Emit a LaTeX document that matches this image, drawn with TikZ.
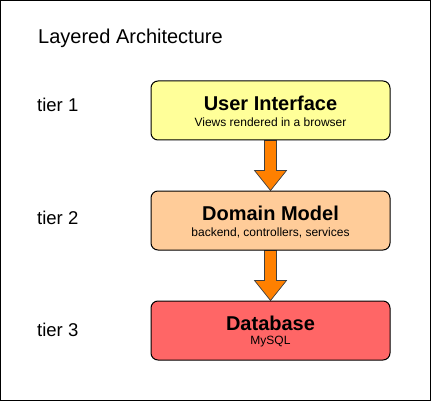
\documentclass[tikz,border=0pt]{standalone}
\usepackage{fontspec}
\setmainfont{Liberation Sans}
\usetikzlibrary{backgrounds}
\definecolor{uifill}{HTML}{FFFF99}
\definecolor{dmfill}{HTML}{FFCC99}
\definecolor{dbfill}{HTML}{FF6666}
\definecolor{arrfill}{HTML}{FF8000}
\begin{document}
\begin{tikzpicture}[x=1pt,y=-1pt,
  layer/.style={draw=black, line width=1pt, rounded corners=7pt, minimum width=239pt, minimum height=59pt, inner sep=0pt},
  headtext/.style={inner sep=0pt, font=\fontsize{20}{22}\selectfont\bfseries},
  subtext/.style={inner sep=0pt, font=\fontsize{12}{14}\selectfont},
  tierlabel/.style={anchor=west, font=\fontsize{18.5}{20}\selectfont, inner sep=0pt},
  bigarrow/.style={draw=black!75, line width=0.7pt, fill=arrfill}]
\useasboundingbox (0,0) rectangle (431,401);
\node[layer, fill=uifill] (ui) at (270.5,110.5) {};
\node[layer, fill=dmfill] (dm) at (270.5,220.5) {};
\node[layer, fill=dbfill] (db) at (270.5,330.5) {};
\begin{scope}[on background layer]
\draw[line width=1pt, fill=white] (0.5,0.5) rectangle (430.5,400.5);
\foreach \a/\b in {ui/dm, dm/db}{
  \draw[bigarrow] ([xshift=-6pt]\a.south) -- ([xshift=-6pt,yshift=20pt]\b.north) -- ([xshift=-16pt,yshift=20pt]\b.north) -- (\b.north) -- ([xshift=16pt,yshift=20pt]\b.north) -- ([xshift=6pt,yshift=20pt]\b.north) -- ([xshift=6pt]\a.south) -- cycle;
}
\end{scope}
\node[anchor=west, inner sep=0pt, font=\fontsize{20}{22}\selectfont] (title) at (38,38) {Layered Architecture};
\node[tierlabel] (t1) at (37,104.5) {tier 1};
\node[tierlabel] (t2) at (37,217.5) {tier 2};
\node[tierlabel] (t3) at (37,329.5) {tier 3};
\node[headtext] (uiT) at ([yshift=7.5pt]ui.center) {User Interface};
\node[subtext] (uiS) at ([yshift=-11.5pt]ui.center) {Views rendered in a browser};
\node[headtext] (dmT) at ([yshift=7.5pt]dm.center) {Domain Model};
\node[subtext] (dmS) at ([yshift=-12pt]dm.center) {backend, controllers, services};
\node[headtext] (dbT) at ([yshift=7.5pt]db.center) {Database};
\node[subtext] (dbS) at ([yshift=-11.5pt]db.center) {MySQL};
\end{tikzpicture}
\end{document}
